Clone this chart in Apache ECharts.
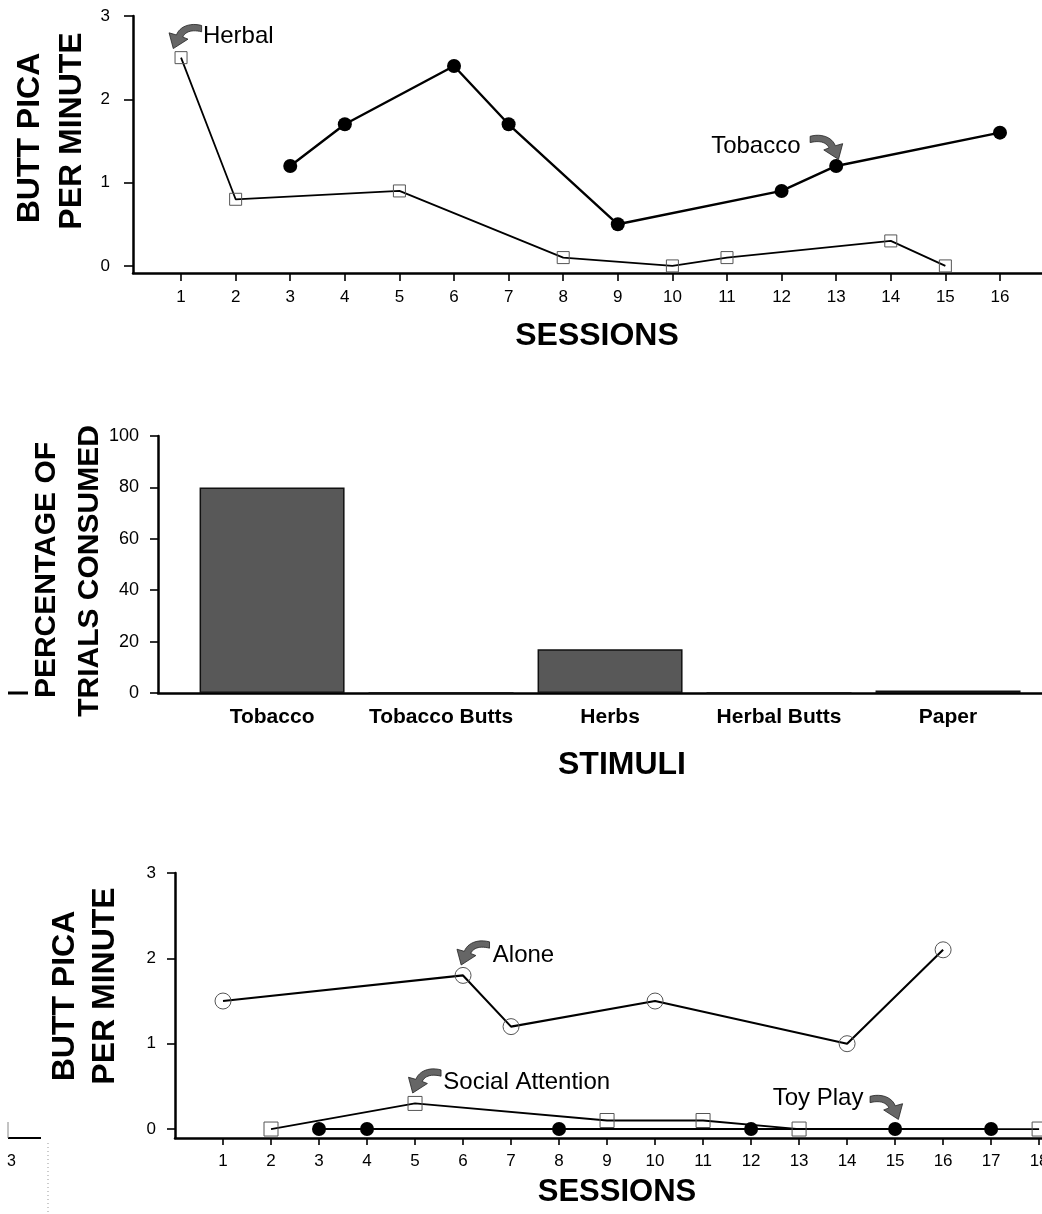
<!DOCTYPE html>
<html><head><meta charset="utf-8">
<script src="https://cdn.jsdelivr.net/npm/echarts@6/dist/echarts.min.js"></script>
<style>html,body{margin:0;padding:0;background:#fff}#c{width:1042px;height:1214px}</style>
</head><body><div id="c"></div>
<script>
// ---------------- data ----------------
const rateTicks = [0, 1, 2, 3];
const topSessionTicks = [1,2,3,4,5,6,7,8,9,10,11,12,13,14,15,16];
const herbalSessions = [1, 2, 5, 8, 10, 11, 14, 15];
const herbalRate     = [2.5, 0.8, 0.9, 0.1, 0.0, 0.1, 0.3, 0.0];
const tobaccoSessions = [3, 4, 6, 7, 9, 12, 13, 16];
const tobaccoRate     = [1.2, 1.7, 2.4, 1.7, 0.5, 0.9, 1.2, 1.6];

const stimuli = ['Tobacco', 'Tobacco Butts', 'Herbs', 'Herbal Butts', 'Paper'];
const percentConsumed = [80, 0, 17, 0, 1];

const bottomSessionTicks = [1,2,3,4,5,6,7,8,9,10,11,12,13,14,15,16,17,18];
const aloneSessions = [1, 6, 7, 10, 14, 16];
const aloneRate     = [1.5, 1.8, 1.2, 1.5, 1.0, 2.1];
const socialSessions = [2, 5, 9, 11, 13, 18];
const socialRate     = [0, 0.3, 0.1, 0.1, 0, 0];
const toySessions = [3, 4, 8, 12, 15, 17];
const toyRate     = [0, 0, 0, 0, 0, 0];

// annotations (data coordinates of text left edge and arrow centre)
const topNotes = [
  {text: 'Herbal',  textAt: [1.40, 2.75],  arrowAt: [1.05, 2.76], dir: -1},
  {text: 'Tobacco', textAt: [10.71, 1.44], arrowAt: [12.85, 1.43], dir: 1}
];
const bottomNotes = [
  {text: 'Alone',            textAt: [6.62, 2.04],  arrowAt: [6.18, 2.07], dir: -1},
  {text: 'Social Attention', textAt: [5.59, 0.55],  arrowAt: [5.17, 0.57], dir: -1},
  {text: 'Toy Play',         textAt: [12.45, 0.36], arrowAt: [14.85, 0.26], dir: 1}
];

// ---------------- chart ----------------
const FONT = '"Liberation Sans", Arial, Helvetica, sans-serif';
const chart = echarts.init(document.getElementById('c'), null, {renderer: 'canvas'});

const axisLineStyle = {show: true, onZero: false, lineStyle: {color: '#000', width: 2.5}};
const tickStyle = {color: '#000', width: 1.6};
const pairs = (xs, ys) => xs.map((x, i) => [x, ys[i]]);

const openStyle = (b) => ({color: 'rgba(255,255,255,0)', borderColor: '#555', borderWidth: b});

chart.setOption({
  animation: false,
  backgroundColor: '#fff',
  grid: [
    {left: 133, right: 0, top: 16, height: 257, containLabel: false, outerBoundsMode: 'none'},
    {left: 158, right: 0, top: 436, height: 257, containLabel: false, outerBoundsMode: 'none'},
    {left: 175, right: 0, top: 873, height: 265, containLabel: false, outerBoundsMode: 'none'}
  ],
  xAxis: [
    {gridIndex: 0, type: 'value', min: 0.12, max: 16.77, splitLine: {show: false},
     axisLine: axisLineStyle,
     axisTick: {show: true, customValues: topSessionTicks, length: 8, lineStyle: tickStyle},
     axisLabel: {customValues: topSessionTicks, margin: 16, fontSize: 17, color: '#000', fontFamily: FONT}},
    {gridIndex: 1, type: 'value', min: 0.325, max: 5.556, splitLine: {show: false},
     axisLine: axisLineStyle,
     axisTick: {show: false},
     axisLabel: {customValues: stimuli.map((_, i) => i + 1), margin: 14, fontSize: 21, fontWeight: 'bold',
       color: '#000', fontFamily: FONT, formatter: v => stimuli[Math.round(v) - 1] || ''}},
    {gridIndex: 2, type: 'value', min: 0, max: 18.06, splitLine: {show: false},
     axisLine: axisLineStyle,
     axisTick: {show: true, customValues: bottomSessionTicks, length: 7, lineStyle: tickStyle},
     axisLabel: {customValues: bottomSessionTicks, margin: 15, fontSize: 17, color: '#000', fontFamily: FONT}}
  ],
  yAxis: [
    {gridIndex: 0, type: 'value', min: -0.085, max: 3, splitLine: {show: false},
     axisLine: axisLineStyle,
     axisTick: {show: true, customValues: rateTicks, length: 9, lineStyle: tickStyle},
     axisLabel: {customValues: rateTicks, margin: 23, fontSize: 17, color: '#000', fontFamily: FONT}},
    {gridIndex: 1, type: 'value', min: 0, max: 100, interval: 20, splitLine: {show: false},
     axisLine: axisLineStyle,
     axisTick: {show: true, length: 8, lineStyle: tickStyle},
     axisLabel: {margin: 19, fontSize: 18, color: '#000', fontFamily: FONT}},
    {gridIndex: 2, type: 'value', min: -0.105, max: 3, splitLine: {show: false},
     axisLine: axisLineStyle,
     axisTick: {show: true, customValues: rateTicks, length: 8, lineStyle: tickStyle},
     axisLabel: {customValues: rateTicks, margin: 19, fontSize: 17, color: '#000', fontFamily: FONT}}
  ],
  series: [
    {name: 'Herbal', type: 'line', xAxisIndex: 0, yAxisIndex: 0, data: pairs(herbalSessions, herbalRate),
     symbol: 'rect', symbolSize: 12, itemStyle: openStyle(1), lineStyle: {color: '#000', width: 1.8}, z: 3},
    {name: 'Tobacco', type: 'line', xAxisIndex: 0, yAxisIndex: 0, data: pairs(tobaccoSessions, tobaccoRate),
     symbol: 'circle', symbolSize: 14, itemStyle: {color: '#000'}, lineStyle: {color: '#000', width: 2.4}, z: 3},
    {name: 'Consumed', type: 'bar', xAxisIndex: 1, yAxisIndex: 1, data: pairs(stimuli.map((_, i) => i + 1), percentConsumed),
     barWidth: 145, itemStyle: {color: '#585858', borderColor: '#111', borderWidth: 1.5}},
    {name: 'Alone', type: 'line', xAxisIndex: 2, yAxisIndex: 2, data: pairs(aloneSessions, aloneRate),
     symbol: 'circle', symbolSize: 16, itemStyle: openStyle(1), lineStyle: {color: '#000', width: 2.1}, z: 3},
    {name: 'Toy Play', type: 'line', xAxisIndex: 2, yAxisIndex: 2, data: pairs(toySessions, toyRate),
     symbol: 'circle', symbolSize: 14, itemStyle: {color: '#000'}, lineStyle: {color: '#000', width: 2.1}, z: 3},
    {name: 'Social Attention', type: 'line', xAxisIndex: 2, yAxisIndex: 2, data: pairs(socialSessions, socialRate),
     symbol: 'rect', symbolSize: 14, itemStyle: openStyle(1), lineStyle: {color: '#000', width: 1.8}, z: 4}
  ]
});

// ---------------- annotations & titles ----------------
function cubic(p0, p1, p2, p3, n) {
  const out = [];
  for (let i = 0; i <= n; i++) {
    const t = i / n, u = 1 - t;
    out.push([
      u*u*u*p0[0] + 3*u*u*t*p1[0] + 3*u*t*t*p2[0] + t*t*t*p3[0],
      u*u*u*p0[1] + 3*u*u*t*p1[1] + 3*u*t*t*p2[1] + t*t*t*p3[1]
    ]);
  }
  return out;
}
const arrowShape = [].concat(
  cubic([17,-10],[6,-13],[-4,-9],[-7,-1],12),
  [[-14,-3],[-10,12],[4,3]],
  cubic([-1,1],[2,-5],[9,-6],[17,-4],12)
);
function arrowEl(c, dir) {
  return {type: 'polygon', silent: true, z: 10,
    shape: {points: arrowShape.map(p => [c[0] - dir * p[0] * 1.05, c[1] + p[1] * 1.05])},
    style: {fill: '#666', stroke: '#222', lineWidth: 0.8}};
}
function textEl(p, text, font, extra) {
  return Object.assign({type: 'text', x: p[0], y: p[1], silent: true, z: 10,
    style: {text: text, font: font, fill: '#000', textAlign: 'left', textVerticalAlign: 'middle', align: 'left', verticalAlign: 'middle'}}, extra || {});
}
function titleEl(x, y, text, size, rotate) {
  return {type: 'text', x: x, y: y, rotation: rotate ? Math.PI / 2 : 0, silent: true, z: 10,
    style: {text: text, font: 'bold ' + size + 'px ' + FONT, fill: '#000',
      textAlign: 'center', textVerticalAlign: 'middle', align: 'center', verticalAlign: 'middle'}};
}
const noteFont = '24px ' + FONT;
const g = [];
topNotes.forEach(n => {
  g.push(textEl(chart.convertToPixel({gridIndex: 0}, n.textAt), n.text, noteFont));
  g.push(arrowEl(chart.convertToPixel({gridIndex: 0}, n.arrowAt), n.dir));
});
bottomNotes.forEach(n => {
  g.push(textEl(chart.convertToPixel({gridIndex: 2}, n.textAt), n.text, noteFont));
  g.push(arrowEl(chart.convertToPixel({gridIndex: 2}, n.arrowAt), n.dir));
});
// axis titles
g.push(titleEl(30, 138, 'BUTT PICA', 32, true));
g.push(titleEl(72, 131, 'PER MINUTE', 32, true));
g.push(titleEl(597, 336, 'SESSIONS', 32, false));
g.push(titleEl(47, 570, 'PERCENTAGE OF', 30, true));
g.push(titleEl(90, 571, 'TRIALS CONSUMED', 30, true));
g.push(titleEl(622, 765, 'STIMULI', 32, false));
g.push(titleEl(65, 996, 'BUTT PICA', 32, true));
g.push(titleEl(105, 986, 'PER MINUTE', 32, true));
g.push(titleEl(617, 1192, 'SESSIONS', 31, false));
// scan remnants at the left margin
g.push({type: 'line', silent: true, shape: {x1: 8, y1: 693, x2: 28, y2: 693}, style: {stroke: '#000', lineWidth: 3}});
g.push({type: 'line', silent: true, shape: {x1: 8, y1: 1138, x2: 41, y2: 1138}, style: {stroke: '#000', lineWidth: 2}});
g.push({type: 'line', silent: true, shape: {x1: 8, y1: 1122, x2: 8, y2: 1138}, style: {stroke: '#888', lineWidth: 1}});
g.push({type: 'line', silent: true, shape: {x1: 48, y1: 1143, x2: 48, y2: 1214}, style: {stroke: '#999', lineWidth: 1, lineDash: [1, 3]}});
g.push({type: 'text', silent: true, x: 7, y: 1162, style: {text: '3', font: '16px ' + FONT, fill: '#000', textVerticalAlign: 'middle', verticalAlign: 'middle'}});

chart.setOption({graphic: g});
</script>
</body></html>
